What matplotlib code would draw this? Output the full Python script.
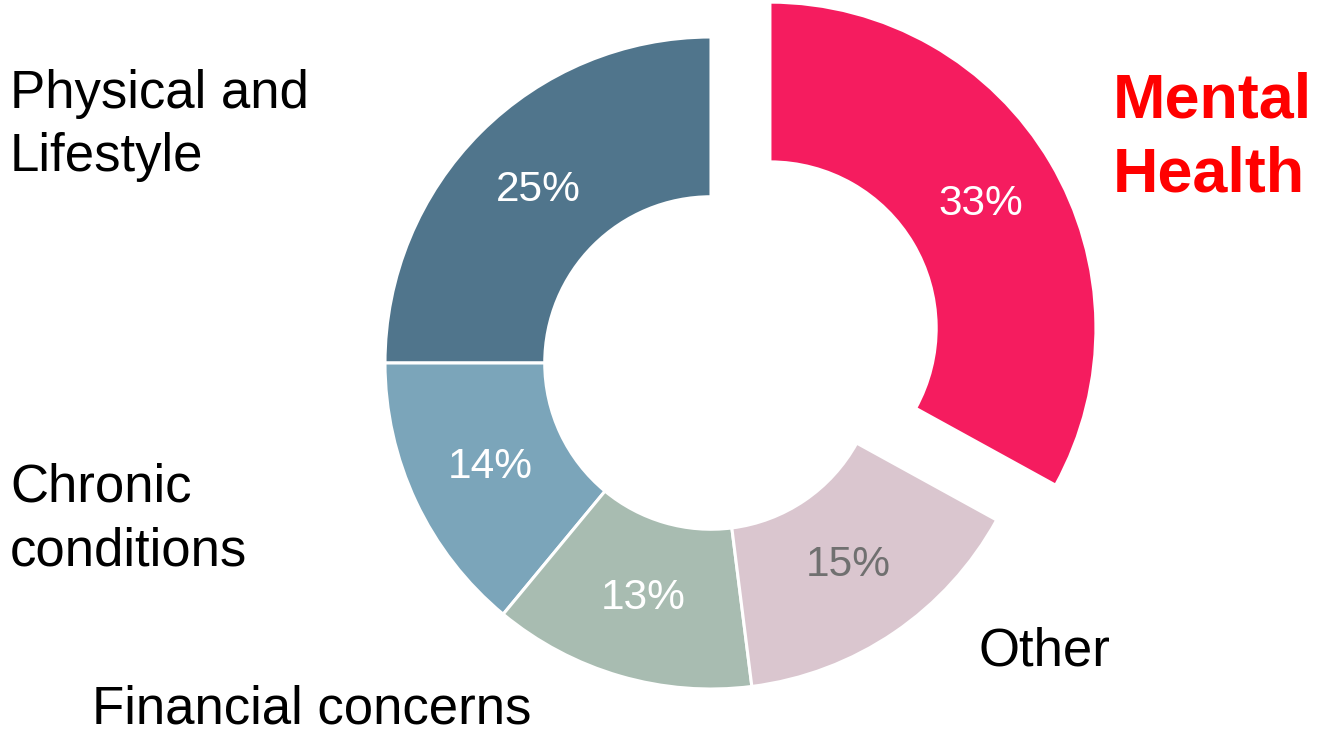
import matplotlib.pyplot as plt

plt.rcParams['font.family'] = ['Liberation Sans', 'DejaVu Sans']

# data, counter-clockwise from 12 o'clock
categories = ["Physical and Lifestyle", "Chronic conditions", "Financial concerns", "Other", "Mental Health"]
shares = [25, 14, 13, 15, 33]
colors = ["#50758C", "#7BA5BA", "#A8BCB1", "#DAC6CF", "#F51C5F"]
pct_colors = ["white", "white", "white", "#707070", "white"]
explode = [0, 0, 0, 0, 0.21]

W, H = 1320, 735
fig = plt.figure(figsize=(W / 100, H / 100), dpi=100)

# donut centre / radius in pixels
cx, cy, R = 711, 363, 326
half = 420
ax = fig.add_axes([(cx - half) / W, (H - cy - half) / H, 2 * half / W, 2 * half / H])

wedges, texts, autotexts = ax.pie(
    shares, colors=colors, explode=explode, startangle=90, counterclock=True,
    autopct='%d%%', pctdistance=0.75,
    wedgeprops=dict(width=0.49, edgecolor='white', linewidth=2.2),
    textprops=dict(fontsize=30.5))
for t, c in zip(autotexts, pct_colors):
    t.set_color(c)

lim = half / R
ax.set_xlim(-lim, lim)
ax.set_ylim(-lim, lim)
ax.set_aspect('equal')
ax.axis('off')

def put(lines, x, y0, step, **kw):
    for i, s in enumerate(lines):
        fig.text(x / W, 1 - (y0 + i * step) / H, s, ha='left', va='baseline', **kw)

put(["Physical and", "Lifestyle"], 10, 108, 63, fontsize=38, color='black')
put(["Chronic", "conditions"], 10, 502, 63, fontsize=38, color='black')
put(["Financial concerns"], 92, 724, 63, fontsize=38, color='black')
put(["Other"], 978, 666, 63, fontsize=38, color='black')
put(["Mental", "Health"], 1113, 117, 75, fontsize=45.3, color='#FF0000', fontweight='bold')

fig.savefig("out.png", dpi=100)
